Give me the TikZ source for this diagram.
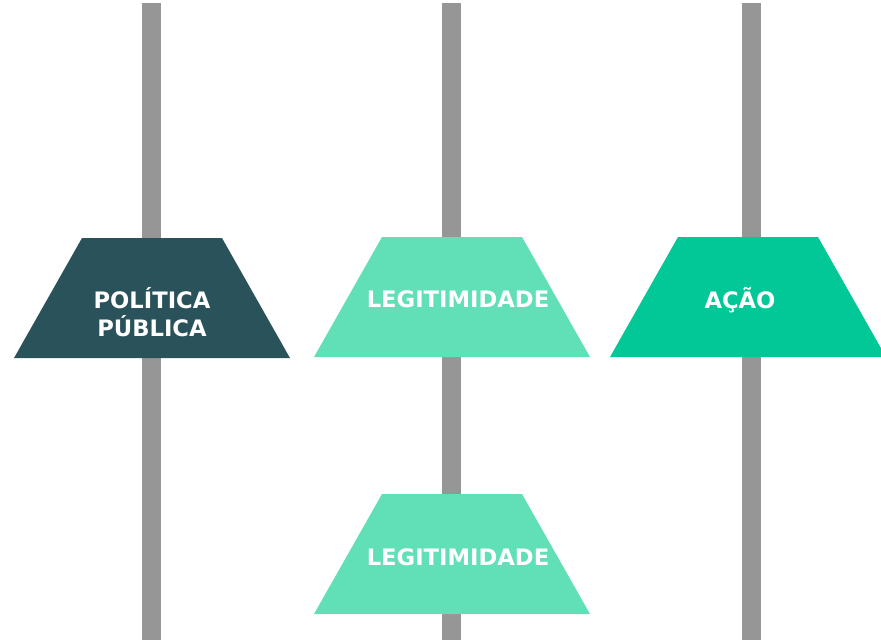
\documentclass[tikz,border=0pt]{standalone}
\usepackage{fontspec}
\setmainfont{DejaVu Sans}

\definecolor{petrol}{HTML}{2A525B}
\definecolor{mint}{HTML}{61E0B7}
\definecolor{jade}{HTML}{02C796}
\definecolor{pole}{HTML}{969696}

% trapezoid block around a named centre: \trapblock{centre}{colour}
\newcommand{\trapblock}[2]{%
    \fill[#2] ([shift={(-138,60)}]#1) -- ([shift={(-70,-60)}]#1)
        -- ([shift={(70,-60)}]#1) -- ([shift={(138,60)}]#1) -- cycle;}

\begin{document}
\begin{tikzpicture}[x=0.75pt,y=-0.75pt,
    lbl/.style={text=white,font=\fontsize{17}{21}\selectfont\bfseries,align=center,inner sep=0pt},
    bar/.style={pole,line width=14.25pt}]
    \useasboundingbox (0,0) rectangle (881,640);

    % poles
    \coordinate (p1top) at (151.5,3);   \coordinate (p1bot) at (151.5,640);
    \coordinate (p2top) at (451.5,3);   \coordinate (p2bot) at (451.5,640);
    \coordinate (p3top) at (751.5,3);   \coordinate (p3bot) at (751.5,640);
    \draw[bar] (p1top) -- (p1bot);
    \draw[bar] (p2top) -- (p2bot);
    \draw[bar] (p3top) -- (p3bot);

    % blocks
    \coordinate (pol)  at (152,298);
    \coordinate (leg)  at (452,297);
    \coordinate (acao) at (748,297);
    \coordinate (leg2) at (452,554);
    \trapblock{pol}{petrol}
    \trapblock{leg}{mint}
    \trapblock{acao}{jade}
    \trapblock{leg2}{mint}

    \node[lbl] (poltxt)  at (152,312) {POLÍTICA\\PÚBLICA};
    \node[lbl] (legtxt)  at (458,299) {LEGITIMIDADE};
    \node[lbl] (acaotxt) at (740,300) {AÇÃO};
    \node[lbl] (leg2txt) at (458,557) {LEGITIMIDADE};
\end{tikzpicture}
\end{document}
